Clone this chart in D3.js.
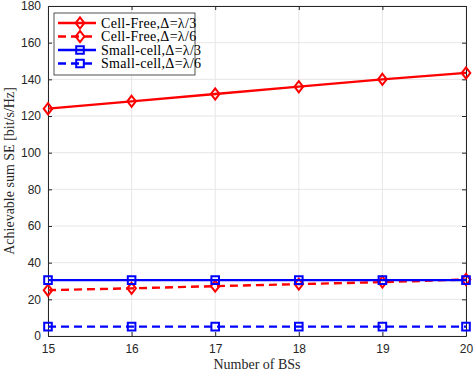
<!DOCTYPE html>
<html lang="en">
<head>
<meta charset="UTF-8">
<script src="https://d3js.org/d3.v7.min.js"></script>
<style>
  body { margin: 0; background: #fff; }
  .tick text { font-family: "Liberation Sans", Arial, sans-serif; font-size: 12px; fill: #262626; }
  .lab { font-family: "Liberation Serif", "DejaVu Serif", serif; font-size: 14px; fill: #262626; }
  .leg { font-family: "Liberation Serif", "DejaVu Serif", serif; font-size: 14px; letter-spacing: 0.3px; fill: #000; }
</style>
</head>
<body>
<div id="vis"></div>
<script>
  const bss = [15, 16, 17, 18, 19, 20];
  const cellFree3 = [124, 128, 132, 136, 140, 143.5];
  const cellFree6 = [25, 26, 27.2, 28.3, 29.4, 30.8];
  const small3 = [30.5, 30.5, 30.5, 30.5, 30.5, 30.5];
  const small6 = [5.1, 5.1, 5.1, 5.1, 5.1, 5.1];
  const yTicks = [0, 20, 40, 60, 80, 100, 120, 140, 160, 180];

  const series = [
    { name: "Cell-Free,\u0394=\u03bb/3", values: cellFree3, color: "#ff0000", dash: null, marker: "diamond" },
    { name: "Cell-Free,\u0394=\u03bb/6", values: cellFree6, color: "#ff0000", dash: "8,5", marker: "diamond" },
    { name: "Small-cell,\u0394=\u03bb/3", values: small3, color: "#0000ff", dash: null, marker: "square" },
    { name: "Small-cell,\u0394=\u03bb/6", values: small6, color: "#0000ff", dash: "8,5", marker: "square" }
  ];

  const W = 474, H = 372;
  const margin = { top: 6, right: 8, bottom: 36, left: 48 };
  const width = W - margin.left - margin.right;
  const height = H - margin.top - margin.bottom;

  const svg = d3.select("#vis").append("svg").attr("width", W).attr("height", H);
  const g = svg.append("g").attr("transform", `translate(${margin.left},${margin.top})`);

  const x = d3.scaleLinear().domain([15, 20]).range([0, width]);
  const y = d3.scaleLinear().domain([0, 180]).range([height, 0]);

  // grid
  g.append("g").selectAll("line").data(bss).join("line")
    .attr("x1", d => x(d)).attr("x2", d => x(d)).attr("y1", 0).attr("y2", height)
    .attr("stroke", "#e6e6e6").attr("stroke-width", 1);
  g.append("g").selectAll("line").data(yTicks).join("line")
    .attr("x1", 0).attr("x2", width).attr("y1", d => y(d)).attr("y2", d => y(d))
    .attr("stroke", "#e6e6e6").attr("stroke-width", 1);

  // axes, MATLAB style ticks inward
  const axStyle = sel => {
    sel.select(".domain").attr("stroke", "#262626");
    sel.selectAll(".tick line").attr("stroke", "#262626");
  };
  g.append("g").attr("transform", `translate(0,${height})`)
    .call(d3.axisBottom(x).tickValues(bss).tickFormat(d3.format("d")).tickSizeInner(-4).tickSizeOuter(0).tickPadding(8))
    .call(axStyle);
  g.append("g")
    .call(d3.axisLeft(y).tickValues(yTicks).tickSizeInner(-4).tickSizeOuter(0).tickPadding(7))
    .call(axStyle);
  g.append("g")
    .call(d3.axisTop(x).tickValues(bss).tickFormat("").tickSizeInner(-4).tickSizeOuter(0))
    .call(axStyle);
  g.append("g").attr("transform", `translate(${width},0)`)
    .call(d3.axisRight(y).tickValues(yTicks).tickFormat("").tickSizeInner(-4).tickSizeOuter(0))
    .call(axStyle);

  const line = d3.line().x((d, i) => x(bss[i])).y(d => y(d));
  // MATLAB-like marker shapes: narrow diamond and square
  const shapes = {
    diamond: s => `M0,${-s * 1.3}L${s},0L0,${s * 1.3}L${-s},0Z`,
    square: s => `M${-s},${-s}H${s}V${s}H${-s}Z`
  };

  series.forEach(s => {
    g.append("path").datum(s.values)
      .attr("fill", "none").attr("stroke", s.color).attr("stroke-width", 2.4)
      .attr("stroke-dasharray", s.dash).attr("d", line);
    g.append("g").selectAll("path").data(s.values).join("path")
      .attr("transform", (d, i) => `translate(${x(bss[i])},${y(d)})`)
      .attr("d", shapes[s.marker](s.marker === "diamond" ? 4.3 : 3.8))
      .attr("fill", "none").attr("stroke", s.color).attr("stroke-width", 2);
  });

  // labels
  svg.append("text").attr("class", "lab")
    .attr("x", margin.left + width / 2).attr("y", H - 3)
    .attr("text-anchor", "middle").text("Number of BSs");
  svg.append("text").attr("class", "lab")
    .attr("transform", `translate(14,${margin.top + height / 2}) rotate(-90)`)
    .attr("text-anchor", "middle").text("Achievable sum SE [bit/s/Hz]");

  // legend
  const lg = svg.append("g").attr("transform", "translate(54,13)");
  lg.append("rect").attr("width", 141).attr("height", 62)
    .attr("fill", "#fff").attr("stroke", "#262626").attr("stroke-width", 0.8);
  series.forEach((s, i) => {
    const yy = 10 + i * 13.5;
    lg.append("line").attr("x1", 4).attr("x2", 42).attr("y1", yy).attr("y2", yy)
      .attr("stroke", s.color).attr("stroke-width", 2.4).attr("stroke-dasharray", s.dash);
    lg.append("path").attr("transform", `translate(26,${yy})`)
      .attr("d", shapes[s.marker](s.marker === "diamond" ? 4.3 : 3.8))
      .attr("fill", "none").attr("stroke", s.color).attr("stroke-width", 2);
    lg.append("text").attr("class", "leg").attr("x", 47).attr("y", yy + 4.5).text(s.name);
  });
</script>
</body>
</html>
